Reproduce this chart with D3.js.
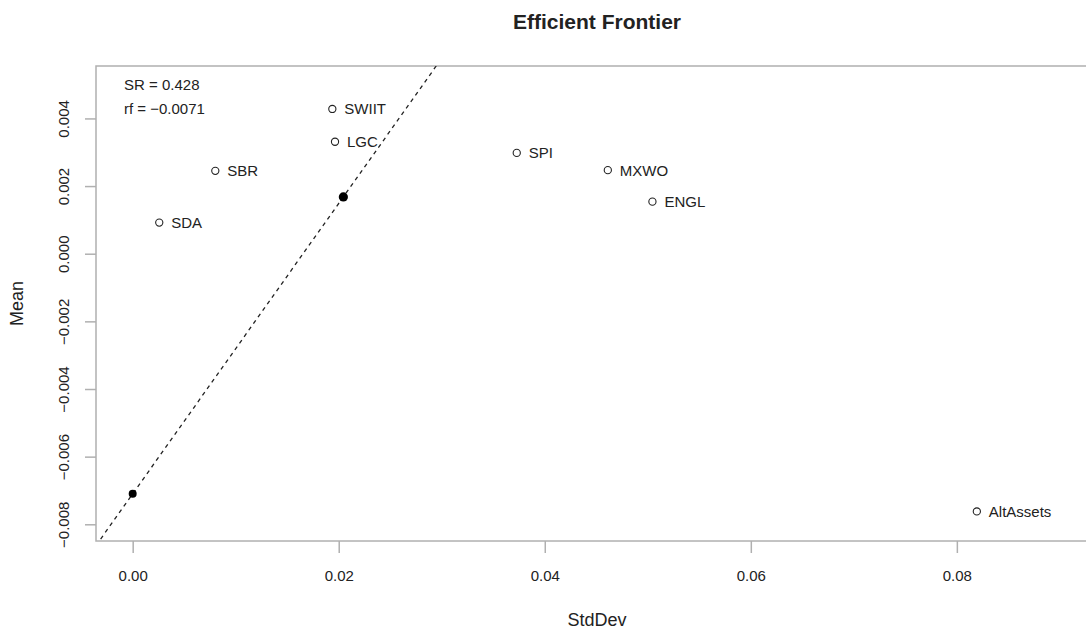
<!DOCTYPE html>
<html>
<head>
<meta charset="utf-8">
<script src="https://cdn.jsdelivr.net/npm/d3@7"></script>
<style>
  body { margin: 0; background: #fff; }
  text { font-family: "Liberation Sans", Arial, sans-serif; fill: #222; }
</style>
</head>
<body>
<div id="chart"></div>
<script>
// asset points
var assetNames = ["SDA", "SBR", "SWIIT", "LGC", "SPI", "MXWO", "ENGL", "AltAssets"];
var assetSd    = [0.00258, 0.00802, 0.01938, 0.01964, 0.03728, 0.04612, 0.05045, 0.08194];
var assetMean  = [0.00092, 0.00245, 0.00428, 0.00331, 0.00298, 0.00247, 0.00154, -0.00762];

// tangency portfolio and risk free point
var tangency = [0.02045, 0.00168];
var riskFree = [0, -0.0071];
var sharpeText = ["SR = 0.428", "rf = \u22120.0071"];

var xTicks = [0, 0.02, 0.04, 0.06, 0.08];
var yTicks = [-0.008, -0.006, -0.004, -0.002, 0, 0.002, 0.004];

var svgWidth = 1086;
var svgHeight = 629;
var plot = { left: 96, right: 1098, top: 66, bottom: 541 };

var svg = d3.select("#chart")
  .append("svg")
  .attr("width", svgWidth)
  .attr("height", svgHeight);

var x = d3.scaleLinear()
  .domain([-0.00356, 0.0937])
  .range([plot.left, plot.right]);

var y = d3.scaleLinear()
  .domain([-0.008494, 0.00555])
  .range([plot.bottom, plot.top]);

svg.append("clipPath")
  .attr("id", "plotclip")
  .append("rect")
  .attr("x", plot.left)
  .attr("y", plot.top)
  .attr("width", plot.right - plot.left)
  .attr("height", plot.bottom - plot.top);

// box
svg.append("rect")
  .attr("x", plot.left)
  .attr("y", plot.top)
  .attr("width", plot.right - plot.left)
  .attr("height", plot.bottom - plot.top)
  .attr("fill", "none")
  .attr("stroke", "#b0b0b0")
  .attr("stroke-width", 1.5);

// axes
var xAxis = svg.append("g")
  .attr("transform", `translate(0, ${plot.bottom})`)
  .call(d3.axisBottom(x).tickValues(xTicks).tickFormat(d3.format(".2f")).tickSize(12).tickPadding(17).tickSizeOuter(0));

var yAxis = svg.append("g")
  .attr("transform", `translate(${plot.left}, 0)`)
  .call(d3.axisLeft(y).tickValues(yTicks).tickFormat(d3.format(".3f")).tickSize(11).tickSizeOuter(0));

svg.selectAll(".domain").remove();
svg.selectAll(".tick line").attr("stroke", "#b0b0b0").attr("stroke-width", 1.5);
svg.selectAll(".tick text")
  .attr("font-size", "15px")
  .attr("font-family", "Liberation Sans, Arial, sans-serif")
  .attr("fill", "#222");

yAxis.selectAll(".tick text")
  .attr("x", null)
  .attr("dy", null)
  .attr("text-anchor", "middle")
  .attr("dominant-baseline", "central")
  .attr("transform", "translate(-33,0) rotate(-90)");

// dashed capital market line through rf and tangency
var slope = (tangency[1] - riskFree[1]) / (tangency[0] - riskFree[0]);
var lineX = [x.domain()[0], x.domain()[1]];

svg.append("g")
  .attr("clip-path", "url(#plotclip)")
  .append("line")
  .attr("x1", x(lineX[0]))
  .attr("y1", y(riskFree[1] + slope * (lineX[0] - riskFree[0])))
  .attr("x2", x(lineX[1]))
  .attr("y2", y(riskFree[1] + slope * (lineX[1] - riskFree[0])))
  .attr("stroke", "#222")
  .attr("stroke-width", 1.3)
  .attr("stroke-dasharray", "4,4");

// asset points
var assets = assetNames.map(function(d, i) {
  return { name: d, sd: assetSd[i], mean: assetMean[i] };
});

svg.selectAll(".asset")
  .data(assets)
  .enter()
  .append("circle")
  .attr("class", "asset")
  .attr("cx", d => x(d.sd))
  .attr("cy", d => y(d.mean))
  .attr("r", 3.6)
  .attr("fill", "none")
  .attr("stroke", "#222")
  .attr("stroke-width", 1.1);

svg.selectAll(".assetLabel")
  .data(assets)
  .enter()
  .append("text")
  .attr("class", "assetLabel")
  .attr("x", d => x(d.sd) + 12)
  .attr("y", d => y(d.mean))
  .attr("dominant-baseline", "central")
  .attr("font-size", "15px")
  .text(d => d.name);

// filled points
svg.append("circle")
  .attr("cx", x(tangency[0]))
  .attr("cy", y(tangency[1]))
  .attr("r", 4.6)
  .attr("fill", "#000");

svg.append("circle")
  .attr("cx", x(riskFree[0]))
  .attr("cy", y(riskFree[1]))
  .attr("r", 4)
  .attr("fill", "#000");

// SR / rf text
svg.selectAll(".srText")
  .data(sharpeText)
  .enter()
  .append("text")
  .attr("class", "srText")
  .attr("x", 124)
  .attr("y", (d, i) => 84 + i * 24)
  .attr("dominant-baseline", "central")
  .attr("font-size", "15px")
  .text(d => d);

// titles
svg.append("text")
  .attr("x", (plot.left + plot.right) / 2)
  .attr("y", 21)
  .attr("text-anchor", "middle")
  .attr("dominant-baseline", "central")
  .attr("font-size", "21px")
  .attr("font-weight", "bold")
  .text("Efficient Frontier");

svg.append("text")
  .attr("x", (plot.left + plot.right) / 2)
  .attr("y", 620)
  .attr("text-anchor", "middle")
  .attr("dominant-baseline", "central")
  .attr("font-size", "18px")
  .text("StdDev");

svg.append("text")
  .attr("transform", `translate(17, ${(plot.top + plot.bottom) / 2}) rotate(-90)`)
  .attr("text-anchor", "middle")
  .attr("dominant-baseline", "central")
  .attr("font-size", "18px")
  .text("Mean");
</script>
</body>
</html>
